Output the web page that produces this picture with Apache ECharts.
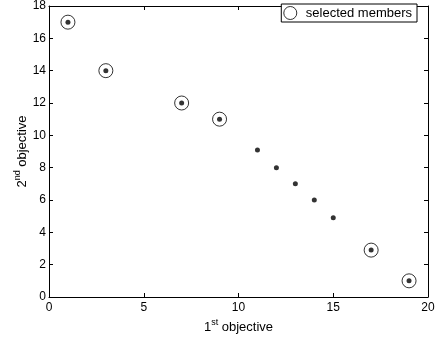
<!DOCTYPE html>
<html>
<head>
<meta charset="utf-8">
<script src="https://cdn.jsdelivr.net/npm/echarts@6/dist/echarts.min.js"></script>
<style>html,body{margin:0;padding:0;background:#fff}#c{width:439px;height:339px}</style>
</head>
<body>
<div id="c"></div>
<script>
// All members (1st objective, 2nd objective)
const allX = [1, 3, 7, 9, 11, 12, 13, 14, 15, 17, 19];
const allY = [17, 14, 12, 11, 9.1, 8.0, 7.0, 6.0, 4.9, 2.9, 1.0];
// Selected members
const selX = [1, 3, 7, 9, 17, 19];
const selY = [17, 14, 12, 11, 2.9, 1.0];
const xTicks = [0, 5, 10, 15, 20];
const yTicks = [0, 2, 4, 6, 8, 10, 12, 14, 16, 18];

const font = 'Liberation Sans, Arial, Helvetica, sans-serif';
const chart = echarts.init(document.getElementById('c'), null, {renderer: 'canvas'});
const axisBase = {
  axisLine: {show: true, onZero: false, lineStyle: {color: '#000', width: 1}},
  axisTick: {show: true, inside: true, length: 4, lineStyle: {color: '#000'}},
  splitLine: {show: false}
};
const nameRich = {
  a: {fontFamily: font, fontSize: 13, color: '#000', lineHeight: 16, verticalAlign: 'bottom'},
  s: {fontFamily: font, fontSize: 9, color: '#000', lineHeight: 16, verticalAlign: 'top'}
};
chart.setOption({
  animation: false,
  backgroundColor: '#fff',
  grid: {left: 49, right: 11, top: 2, bottom: 39, containLabel: false},
  legend: {
    data: [{name: 'selected members', icon: 'circle', itemStyle: {color: '#fff', borderColor: '#000', borderWidth: 1}}],
    right: 22, top: 4,
    backgroundColor: '#fff', borderColor: '#000', borderWidth: 1,
    padding: [2, 5, 2, 2], itemWidth: 13, itemHeight: 13, itemGap: 5,
    textStyle: {fontFamily: font, fontSize: 13, color: '#000', padding: [0, 0, 0, 4]}
  },
  xAxis: [
    Object.assign({}, axisBase, {
      type: 'value', min: xTicks[0], max: xTicks[xTicks.length - 1], interval: 5, position: 'bottom',
      axisLabel: {fontFamily: font, fontSize: 12, color: '#000', margin: 5},
      name: '{a|1}{s|st}{a| objective}', nameLocation: 'middle', nameGap: 21, nameMoveOverlap: false,
      nameTextStyle: {rich: nameRich}
    }),
    Object.assign({}, axisBase, {
      type: 'value', min: 0, max: 20, interval: 5, position: 'top', axisLabel: {show: false}
    })
  ],
  yAxis: [
    Object.assign({}, axisBase, {
      type: 'value', min: yTicks[0], max: yTicks[yTicks.length - 1], interval: 2, position: 'left',
      axisLabel: {fontFamily: font, fontSize: 12, color: '#000', margin: 3},
      name: '{a|2}{s|nd}{a| objective}', nameLocation: 'middle', nameGap: 20, nameMoveOverlap: false,
      nameTextStyle: {rich: nameRich}
    }),
    Object.assign({}, axisBase, {
      type: 'value', min: 0, max: 18, interval: 2, position: 'right', axisLabel: {show: false}
    })
  ],
  series: [
    {
      name: 'all members', type: 'scatter', symbol: 'circle', symbolSize: 5,
      itemStyle: {color: '#000'}, data: allX.map((x, i) => [x, allY[i]]), z: 3
    },
    {
      name: 'selected members', type: 'scatter', symbol: 'circle', symbolSize: 14,
      itemStyle: {color: 'rgba(0,0,0,0)', borderColor: '#000', borderWidth: 1},
      data: selX.map((x, i) => [x, selY[i]]), z: 2
    }
  ]
});
</script>
</body>
</html>
